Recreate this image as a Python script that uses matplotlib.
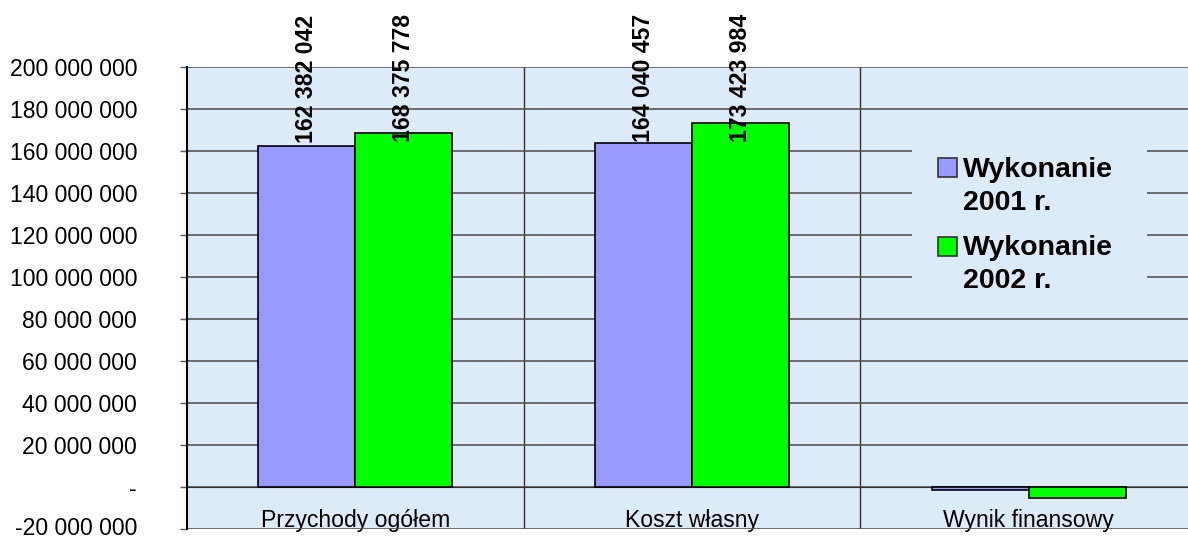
import matplotlib
matplotlib.use('Agg')
import matplotlib.pyplot as plt
import matplotlib.transforms as mtransforms
import numpy as np
from matplotlib.patches import Rectangle
from matplotlib.ticker import FuncFormatter, FixedLocator

categories = ['Przychody ogółem', 'Koszt własny', 'Wynik finansowy']
wykonanie_2001 = [162382042, 164040457, -1658415]
wykonanie_2002 = [168375778, 173423984, -5048206]
series_labels = [['Wykonanie', '2001 r.'], ['Wykonanie', '2002 r.']]
series_colors = ['#9999FF', '#00FF00']
show_labels = [True, True, False]

plt.rcParams['font.family'] = ['Liberation Sans', 'DejaVu Sans']
plt.rcParams['font.size'] = 16.6

bg = '#DDEAF8'
W, H = 1188, 538

fig = plt.figure(figsize=(W / 100, H / 100), dpi=100)
ax = fig.add_axes([187 / W, 1 - 529 / H, 1010 / W, 462 / H])
ax.set_facecolor(bg)

x = np.arange(len(categories))
w = 0.288
b1 = ax.bar(x - w / 2, wykonanie_2001, w, color=series_colors[0], edgecolor='black',
            linewidth=1.2, zorder=3)
b2 = ax.bar(x + w / 2, wykonanie_2002, w, color=series_colors[1], edgecolor='black',
            linewidth=1.2, zorder=3)

ax.set_xlim(-0.5, 2.5)
ax.set_ylim(-20000000, 200000000)
ax.set_yticks(np.arange(-20000000, 200000001, 20000000))

# value labels, kept inside the picture like Excel does
anns = []
for bars, vals in ((b1, wykonanie_2001), (b2, wykonanie_2002)):
    for rect, v, show in zip(bars, vals, show_labels):
        if not show:
            continue
        a = ax.annotate(f'{v:,}'.replace(',', ' '),
                        (rect.get_x() + rect.get_width() / 2, rect.get_height()),
                        xytext=(0, 2), textcoords='offset points', rotation=90,
                        ha='center', va='bottom', fontweight='bold', fontsize=16.6,
                        annotation_clip=False, zorder=4)
        anns.append(a)

fig.canvas.draw()
for a in anns:
    top = a.get_window_extent().y1
    limit = H - 14
    if top > limit:
        a.xyann = (0, 2 - (top - limit) * 72 / 100)


def fmt(v, pos):
    if v == 0:
        return '-'
    return f'{int(v):,}'.replace(',', ' ')


ax.yaxis.set_major_formatter(FuncFormatter(fmt))
ax.tick_params(axis='y', direction='out', length=5, width=1, color='#555555', pad=31,
               labelsize=16.6)
ax.grid(axis='y', color='#555555', linewidth=1.2, zorder=1)

# lift the lowest tick label a touch so it stays inside the picture
low = ax.get_yticklabels()[0]
low.set_transform(low.get_transform() +
                  mtransforms.ScaledTranslation(0, 2.5 / 72, fig.dpi_scale_trans))

ax.set_xticks(x)
ax.set_xticklabels(categories, fontsize=16.6)
ax.tick_params(axis='x', length=0, pad=15.5)
ax.xaxis.set_minor_locator(FixedLocator([0.5, 1.5]))
ax.tick_params(axis='x', which='minor', length=0)
ax.grid(axis='x', which='minor', color='#333333', linewidth=1.0, zorder=1)

ax.spines['bottom'].set_position(('data', 0))
ax.spines['bottom'].set_color('#333333')
ax.spines['bottom'].set_zorder(2)
ax.spines['top'].set_visible(False)
ax.spines['right'].set_visible(False)
ax.spines['left'].set_color('black')
ax.spines['left'].set_linewidth(1.5)


def axp(px, py):
    return (px - 187) / 1010, (529 - py) / 462


# legend box
lx0, ly0 = axp(912, 300)
lx1, ly1 = axp(1147, 128)
ax.add_patch(Rectangle((lx0, ly0), lx1 - lx0, ly1 - ly0, transform=ax.transAxes,
                       facecolor=bg, edgecolor='none', zorder=5))
for lines, col, sq_top, base in zip(series_labels, series_colors, [158, 237], [177, 255]):
    sx0, sy0 = axp(938, sq_top + 19)
    sx1, sy1 = axp(957, sq_top)
    ax.add_patch(Rectangle((sx0, sy0), sx1 - sx0, sy1 - sy0, transform=ax.transAxes,
                           facecolor=col, edgecolor='#333333', linewidth=1.2, zorder=6))
    for i, line in enumerate(lines):
        tx, ty = axp(963, base + 33 * i)
        ax.text(tx, ty, line, transform=ax.transAxes, ha='left', va='baseline',
                fontsize=20.5, fontweight='bold', zorder=6)

fig.savefig('out.png', dpi=100)
